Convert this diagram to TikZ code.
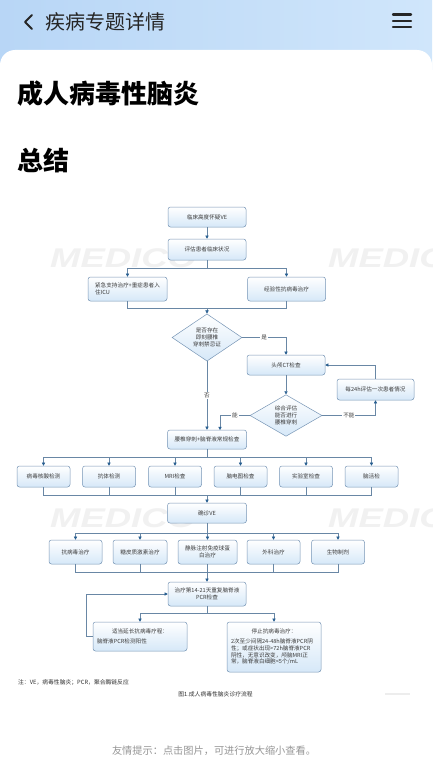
\documentclass[tikz,border=0pt]{standalone}
\usepackage{fontspec}
\setmainfont{Noto Sans CJK SC}
\newfontfamily\wmfont{Liberation Sans}
\usetikzlibrary{shapes.geometric,arrows.meta,calc}
\definecolor{boxline}{RGB}{120,150,182}
\definecolor{boxfill}{RGB}{214,232,248}
\definecolor{tipc}{RGB}{40,95,145}
\definecolor{linec}{RGB}{105,135,165}
\definecolor{txtc}{RGB}{60,60,60}
\definecolor{hdrA}{RGB}{184,214,246}
\definecolor{hdrB}{RGB}{208,230,251}
\definecolor{wmc}{RGB}{241,241,241}
\definecolor{footc}{RGB}{150,150,150}
\definecolor{notec}{RGB}{50,50,50}
\tikzset{
 flowbox/.style={draw=boxline, line width=0.5pt, rounded corners=2.5pt, top color=white, bottom color=boxfill, text=txtc, font=\fontsize{5.6}{7}\selectfont, align=center, inner sep=1pt},
 flowdia/.style={diamond, draw=boxline, line width=0.5pt, top color=white, bottom color=boxfill, text=txtc, font=\fontsize{5.6}{7}\selectfont, align=center, inner sep=0pt},
 conn/.style={draw=linec, line width=0.5pt},
 arr/.style={conn, -{Triangle[length=3.2pt,width=3.2pt,color=tipc]}},
 lbl/.style={fill=white, text=txtc, font=\fontsize{5.6}{7}\selectfont, inner sep=1pt},
 wmark/.style={anchor=west, text=wmc, font=\wmfont\bfseries\itshape\fontsize{27}{27}\selectfont, inner sep=0pt},
}
\begin{document}
\begin{tikzpicture}[x=1pt,y=-1pt]
\useasboundingbox (0,0) rectangle (432,768);
\clip (0,0) rectangle (432,768);
% header
\fill[left color=hdrA, right color=hdrB] (0,0) rectangle (432,70);
\fill[white, rounded corners=15pt] (0,800) -- (0,50) -- (432,50) -- (432,800) -- cycle;
\draw[line width=1.8pt, line cap=round, line join=round, black!85] (32,15) -- (25,22) -- (32,29);
\node[anchor=west, inner sep=0pt, font=\fontsize{20}{20}\selectfont, text=black!85] (hdr) at (45,22) {疾病专题详情};
\foreach \yy in {14.5,20.8,27} \draw[line width=2.4pt, line cap=round, black!85] (393,\yy) -- (411,\yy);
\node[anchor=west, inner sep=0pt, font=\fontsize{26}{26}\selectfont\bfseries] (title) at (17,94) {成人病毒性脑炎};
\node[anchor=west, inner sep=0pt, font=\fontsize{26}{26}\selectfont\bfseries] (summ) at (17,161) {总结};
% watermarks
\node[wmark] (w1) at (50,258) {\scalebox{1.35}[1]{MEDICO}};
\node[wmark] (w2) at (328,258) {\scalebox{1.35}[1]{MEDICO}};
\node[wmark] (w3) at (50,518) {\scalebox{1.35}[1]{MEDICO}};
\node[wmark] (w4) at (328,518) {\scalebox{1.35}[1]{MEDICO}};
% nodes
\node[flowbox, minimum width=78, minimum height=20] (b1) at (207,217) {临床高度怀疑VE};
\node[flowbox, minimum width=78, minimum height=21] (b2) at (207,249.5) {评估患者临床状况};
\node[flowbox, minimum width=79, minimum height=24, align=left] (b3) at (127.5,289) {紧急支持治疗+重症患者入\\住ICU};
\node[flowbox, minimum width=78, minimum height=24] (b4) at (286.5,289) {经验性抗病毒治疗};
\node[flowdia, minimum width=70, minimum height=39] (d1) at (207,337.5) {是否存在\\即刻腰椎\\穿刺禁忌证};
\node[flowbox, minimum width=78, minimum height=20] (ct) at (286,365) {头颅CT检查};
\node[flowbox, minimum width=77, minimum height=21] (ev) at (375.5,389.5) {每24h评估一次患者情况};
\node[flowdia, minimum width=72, minimum height=39] (d2) at (286,415.5) {综合评估\\能否进行\\腰椎穿刺};
\node[flowbox, minimum width=79, minimum height=19] (lp) at (207,439.5) {腰椎穿刺+脑脊液常规检查};
\foreach \n/\x/\t in {t1/43.5/病毒核酸检测, t2/109/抗体检测, t3/175/MRI检查, t4/240.5/脑电图检查, t5/306/实验室检查, t6/371.5/脑活检}
  \node[flowbox, minimum width=53, minimum height=21] (\n) at (\x,476.5) {\t};
\node[flowbox, minimum width=79, minimum height=20] (dx) at (207,513) {确诊VE};
\node[flowbox, minimum width=53, minimum height=24] (r1) at (75.5,552) {抗病毒治疗};
\node[flowbox, minimum width=54, minimum height=24] (r2) at (140,552) {糖皮质激素治疗};
\node[flowbox, minimum width=59, minimum height=24] (r3) at (207.5,552) {静脉注射免疫球蛋\\白治疗};
\node[flowbox, minimum width=53, minimum height=24] (r4) at (273.5,552) {外科治疗};
\node[flowbox, minimum width=53, minimum height=24] (r5) at (338,552) {生物制剂};
\node[flowbox, minimum width=78, minimum height=24] (pcr) at (207,594) {治疗第14-21天重复脑脊液\\PCR检查};
\node[flowbox, minimum width=94, minimum height=29, text width=86, align=left] (lf) at (140,636.5) {\makebox[\linewidth]{适当延长抗病毒疗程：}\\[2.5pt]脑脊液PCR检测阳性};
\node[flowbox, minimum width=94, minimum height=50, text width=86, align=left, font=\fontsize{5.6}{6.7}\selectfont] (rt) at (274,647) {\makebox[\linewidth]{停止抗病毒治疗：}\\[3.3pt]2次至少间隔24-48h脑脊液PCR阴\\性；或症状出现>72h脑脊液PCR\\阴性，无意识改变，颅脑MRI正\\常，脑脊液白细胞<5个/mL};
% junctions
\coordinate (j1) at (207,268);
\coordinate (m1) at (207,308);
\coordinate (j2) at (207,457);
\coordinate (m2) at (207,495);
\coordinate (j3) at (207,533);
\coordinate (m3) at (207,572);
\coordinate (j4) at (207,613);
\coordinate (lpin) at (220,430);
\coordinate (fb) at (86,636.5);
% connectors
\draw[arr] (b1) -- (b2);
\draw[conn] (b2.south) -- (j1);
\draw[arr] (j1) -| (b3.north);
\draw[arr] (j1) -| (b4.north);
\draw[conn] (b3.south) |- (m1);
\draw[conn] (b4.south) |- (m1);
\draw[arr] (m1) -- (d1.north);
\draw[arr] (d1.east) -| (ct.north) node[lbl, pos=0.25] {是};
\draw[arr] (d1.south) -- (lp.north) node[lbl, midway] {否};
\draw[arr] (ct) -- (d2);
\draw[arr] (d2.east) -| (ev.south) node[lbl, pos=0.25] {不能};
\draw[arr] (d2.west) -| (lpin) node[lbl, pos=0.25] {能};
\draw[arr] (ev.north) |- (ct.east);
\draw[conn] (lp.south) -- (j2);
\foreach \n in {t1,t2,t3,t4,t5,t6} {
  \draw[arr] (j2) -| (\n.north);
  \draw[conn] (\n.south) |- (m2);
}
\draw[arr] (m2) -- (dx.north);
\draw[conn] (dx.south) -- (j3);
\foreach \n in {r1,r2,r3,r4,r5} {
  \draw[arr] (j3) -| (\n.north);
  \draw[conn] (\n.south) |- (m3);
}
\draw[arr] (m3) -- (pcr.north);
\draw[conn] (pcr.south) -- (j4);
\draw[arr] (j4) -| (lf.north);
\draw[arr] (j4) -| (rt.north);
\draw[arr] (lf.west) -- (fb) |- (pcr.west);
% notes
\node[anchor=west, inner sep=0pt, font=\fontsize{5.8}{7}\selectfont, text=notec] (note) at (18,682) {注：VE，病毒性脑炎；PCR，聚合酶链反应};
\node[inner sep=0pt, font=\fontsize{5.8}{7}\selectfont, text=notec] (cap) at (215.5,694) {图1.成人病毒性脑炎诊疗流程};
\draw[black!7, line width=1.2pt] (385,694) -- (410,694);
\node[inner sep=0pt, font=\fontsize{10.2}{12}\selectfont, text=footc] (foot) at (214,751) {友情提示：点击图片，可进行放大缩小查看。};
\end{tikzpicture}
\end{document}
